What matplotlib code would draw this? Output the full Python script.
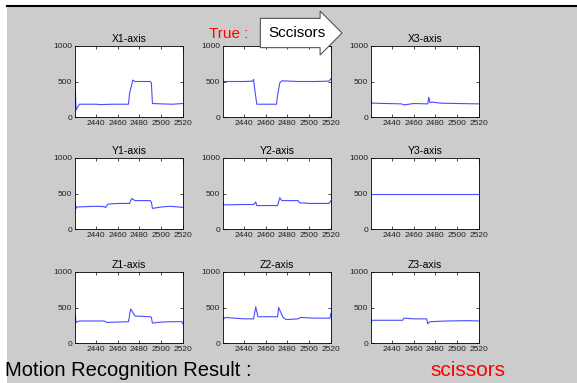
import matplotlib
matplotlib.use("Agg")
import matplotlib.pyplot as plt
from matplotlib.patches import Rectangle

# sample index ranges and readings for each sensor axis
x1_t = [2421, 2422, 2425, 2440, 2445, 2455, 2470, 2471, 2474, 2476, 2485, 2490, 2491, 2492, 2500, 2510, 2515, 2520]
x1_v = [520, 100, 180, 180, 175, 180, 180, 330, 520, 500, 500, 500, 480, 190, 185, 180, 185, 190]

x2_t = [2421, 2430, 2440, 2448, 2449, 2450, 2452, 2460, 2470, 2471, 2473, 2475, 2490, 2505, 2518, 2520]
x2_v = [500, 500, 500, 505, 530, 400, 180, 180, 180, 300, 480, 510, 500, 500, 505, 540]

x3_t = [2421, 2422, 2435, 2449, 2451, 2460, 2473, 2474, 2475, 2477, 2485, 2500, 2520]
x3_v = [220, 195, 190, 185, 170, 190, 185, 280, 200, 210, 195, 190, 185]

y1_t = [2421, 2422, 2423, 2440, 2448, 2449, 2451, 2460, 2471, 2473, 2476, 2490, 2491, 2492, 2500, 2508, 2520]
y1_v = [380, 290, 310, 320, 315, 300, 350, 360, 360, 430, 400, 400, 380, 290, 310, 320, 305]

y2_t = [2421, 2422, 2440, 2449, 2451, 2452, 2460, 2471, 2473, 2475, 2490, 2491, 2500, 2510, 2518, 2520]
y2_v = [370, 340, 345, 345, 380, 330, 330, 330, 440, 400, 400, 370, 360, 360, 360, 400]

y3_t = [2421, 2520]
y3_v = [500, 500]

z1_t = [2421, 2422, 2425, 2448, 2450, 2460, 2470, 2472, 2476, 2490, 2491, 2492, 2500, 2510, 2519, 2520]
z1_v = [420, 290, 310, 310, 290, 295, 300, 480, 380, 370, 360, 280, 295, 300, 300, 270]

z2_t = [2421, 2423, 2440, 2449, 2451, 2453, 2465, 2471, 2472, 2476, 2479, 2490, 2492, 2505, 2519, 2520]
z2_v = [330, 360, 340, 340, 510, 370, 370, 370, 500, 360, 330, 340, 360, 350, 350, 420]

z3_t = [2421, 2422, 2440, 2450, 2451, 2460, 2472, 2473, 2475, 2490, 2510, 2520]
z3_v = [280, 320, 320, 320, 350, 340, 340, 270, 300, 310, 315, 310]

titles = ["X1-axis", "X2-axis", "X3-axis",
          "Y1-axis", "Y2-axis", "Y3-axis",
          "Z1-axis", "Z2-axis", "Z3-axis"]
series = [(x1_t, x1_v), (x2_t, x2_v), (x3_t, x3_v),
          (y1_t, y1_v), (y2_t, y2_v), (y3_t, y3_v),
          (z1_t, z1_v), (z2_t, z2_v), (z3_t, z3_v)]
xticks = [2440, 2460, 2480, 2500, 2520]
yticks = [0, 500, 1000]

W, H = 577, 383
fig = plt.figure(figsize=(W / 100, H / 100), dpi=100)
fig.patch.set_facecolor("#cccccc")

# white margins on the left and top, black top rule
fig.add_artist(Rectangle((0, 0), 7 / W, 1, transform=fig.transFigure,
                         facecolor="white", edgecolor="none", zorder=-5))
fig.add_artist(Rectangle((0, (H - 5) / H), 1, 5 / H, transform=fig.transFigure,
                         facecolor="white", edgecolor="none", zorder=-5))
fig.add_artist(plt.Line2D([7 / W, 1], [(H - 5.5) / H, (H - 5.5) / H],
                          color="black", lw=1.5, transform=fig.transFigure))

col_x = [75, 223, 371]
row_y = [46, 158, 272]
aw, ah = 108, 71

for i, (name, (t, v)) in enumerate(zip(titles, series)):
    r, c = divmod(i, 3)
    left = col_x[c] / W
    bottom = 1 - (row_y[r] + ah) / H
    ax = fig.add_axes([left, bottom, aw / W, ah / H])
    ax.plot(t, v, color="#4b4bff", lw=0.8)
    if name != "X2-axis":  # hidden under the callout in the original
        ax.set_title(name, fontsize=7.5, pad=3, family="Liberation Sans")
    ax.set_xlim(2421, 2520)
    ax.set_ylim(0, 1000)
    ax.set_xticks(xticks)
    ax.set_yticks(yticks)
    ax.tick_params(direction="in", length=2, width=0.5, labelsize=6,
                   top=True, right=True, pad=2, labelcolor="#222222")
    for lab in ax.get_xticklabels() + ax.get_yticklabels():
        lab.set_family("Liberation Sans")
    for s in ax.spines.values():
        s.set_linewidth(0.6)

# "True :" label with arrow-shaped callout
fig.text(209 / W, 1 - 34 / H, "True :", color="red", fontsize=11,
         va="center", ha="left", family="Liberation Sans")
fig.text(268 / W, 1 - 33 / H, "Sccisors", color="black", fontsize=11,
         va="center", ha="left", family="Liberation Sans", zorder=10,
         bbox=dict(boxstyle="rarrow,pad=0.5", facecolor="white",
                   edgecolor="#555555", lw=0.8))

fig.text(5 / W, 1 - 370 / H, "Motion Recognition Result :", fontsize=14.5,
         va="center", ha="left", family="Liberation Sans")
fig.text(430 / W, 1 - 371 / H, "scissors", color="red", fontsize=15,
         va="center", ha="left", family="Liberation Sans")

fig.savefig("out.png", dpi=100, facecolor=fig.get_facecolor())
